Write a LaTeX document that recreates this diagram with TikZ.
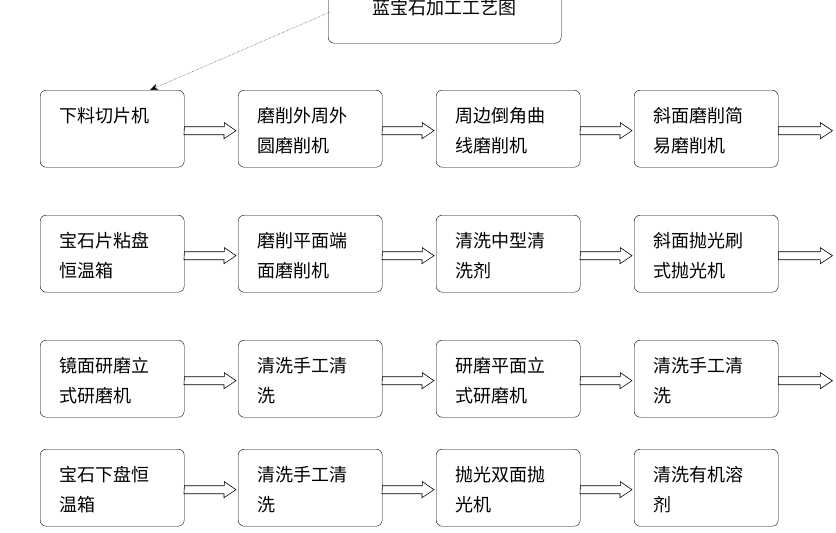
\documentclass[tikz,border=0pt]{standalone}
\usepackage{fontspec}
\setmainfont{Noto Sans CJK SC}
\usetikzlibrary{arrows.meta}
\begin{document}
\begin{tikzpicture}[x=1pt,y=-1pt,
 box/.style={draw,rounded corners=6pt,minimum width=144pt,minimum height=77pt,anchor=north west,inner sep=0pt},
 txt/.style={anchor=north west,align=left,font=\fontsize{18pt}{30pt}\selectfont},
 harrow/.style={draw,fill=white,line width=0.6pt}]
\useasboundingbox (0,0) rectangle (836,533);
\node[box,minimum width=233pt,minimum height=50pt] (t) at (328,-7) {};
\node[font=\fontsize{18pt}{20pt}\selectfont] at (444,8) {蓝宝石加工工艺图};
\foreach \r/\y/\a/\b/\c/\d in {
 1/90/{下料切片机}/{磨削外周外\\圆磨削机}/{周边倒角曲\\线磨削机}/{斜面磨削简\\易磨削机},
 2/215/{宝石片粘盘\\恒温箱}/{磨削平面端\\面磨削机}/{清洗中型清\\洗剂}/{斜面抛光刷\\式抛光机},
 3/340/{镜面研磨立\\式研磨机}/{清洗手工清\\洗}/{研磨平面立\\式研磨机}/{清洗手工清\\洗},
 4/449/{宝石下盘恒\\温箱}/{清洗手工清\\洗}/{抛光双面抛\\光机}/{清洗有机溶\\剂}}{
 \foreach \cc/\tx [count=\i] in {40/\a,238/\b,436/\c,634/\d}{
   \node[box] (n\r\i) at (\cc,\y) {};
   \node[txt] at (\cc+16,\y+14) {\tx};
 }
}
\foreach \r in {1,2,3,4}{
 \foreach \i/\j in {1/2,2/3,3/4}{
  \path (n\r\i.east) ++(0,2) coordinate (s);
  \path (n\r\j.west) ++(-2,2) coordinate (e);
  \draw[harrow] (s) ++(0,-4) -- ++(40,0) -- ++(0,-4) -- (e) -- ++(-12,8) -- ++(0,-4) -- ++(-40,0) -- cycle;
 }
}
\foreach \r in {1,2,3}{
  \draw[harrow] (n\r4.east) ++(0,-2) -- ++(42,0) -- ++(0,-4) -- ++(12,8) -- ++(-12,8) -- ++(0,-4) -- ++(-42,0) -- cycle;
}
\coordinate (tc) at (330,12);
\draw[densely dotted,-{Stealth[length=8pt,width=6pt]}] (tc) -- (150,90);
\end{tikzpicture}
\end{document}
